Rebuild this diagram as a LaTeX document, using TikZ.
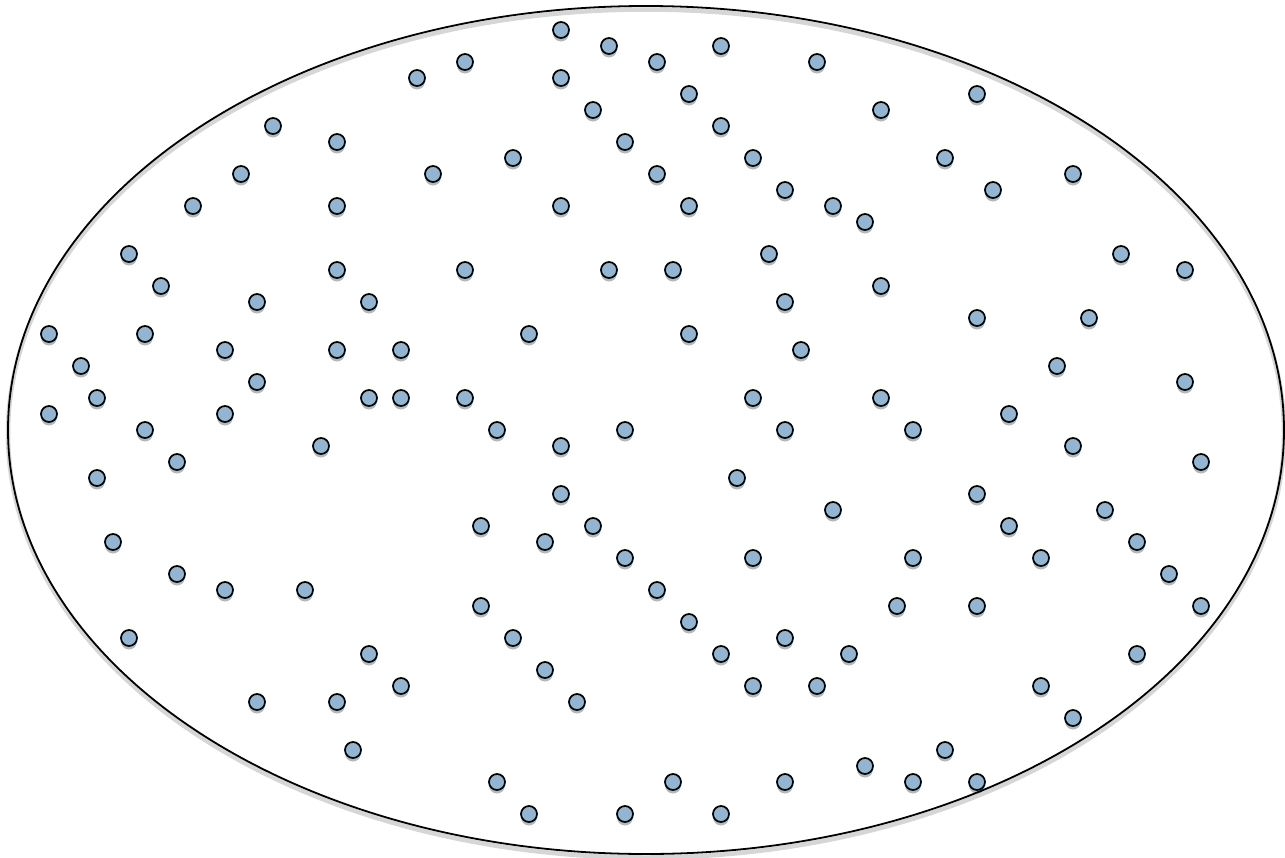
\documentclass[tikz,border=0pt]{standalone}
\usepackage{tikz}
\usetikzlibrary{shapes.geometric,shadows}
\definecolor{dotblue}{RGB}{147,180,211}

\begin{document}
\begin{tikzpicture}[x=1pt, y=-1pt,
    region/.style={ellipse, draw, line width=1.8pt, minimum width=1276pt, minimum height=848pt, inner sep=0pt,
        preaction={draw=black!16, line width=4.5pt, transform canvas={yshift=-3.5pt}}},
    dot/.style={circle, draw, line width=1.7pt, fill=dotblue, minimum size=16pt, inner sep=0pt,
        drop shadow={shadow xshift=0pt, shadow yshift=-3.5pt, fill=black, opacity=0.28}}
]
\useasboundingbox (0,0) rectangle (1285,857);

% Outer region
\node[region] (space) at (646,430) {};

% Scattered points
\foreach \x/\y [count=\i] in {
    561/30, 609/46, 721/46, 465/62, 657/62, 817/62, 417/78, 561/78,
    689/94, 977/94, 593/110, 881/110, 273/126, 721/126, 337/142, 625/142,
    513/158, 753/158, 945/158, 241/174, 433/174, 657/174, 1073/174,
    785/190, 993/190, 193/206, 337/206, 561/206, 689/206, 833/206, 865/222,
    129/254, 769/254, 1121/254, 337/270, 465/270, 609/270, 673/270, 1185/270,
    161/286, 881/286, 257/302, 369/302, 785/302, 977/318, 1089/318,
    49/334, 145/334, 529/334, 689/334, 225/350, 337/350, 401/350, 801/350,
    81/366, 1057/366, 257/382, 1185/382,
    97/398, 369/398, 401/398, 465/398, 753/398, 881/398, 49/414, 225/414, 1009/414,
    145/430, 497/430, 625/430, 785/430, 913/430, 321/446, 561/446, 1073/446,
    177/462, 1201/462, 97/478, 737/478, 561/494, 977/494, 833/510, 1105/510,
    481/526, 593/526, 1009/526, 113/542, 545/542, 1137/542,
    625/558, 753/558, 913/558, 1041/558, 177/574, 1169/574,
    225/590, 305/590, 657/590, 481/606, 897/606, 977/606, 1201/606, 689/622,
    129/638, 513/638, 785/638, 369/654, 721/654, 849/654, 1137/654, 545/670,
    401/686, 753/686, 817/686, 1041/686, 257/702, 337/702, 577/702, 1073/718,
    353/750, 945/750, 865/766, 497/782, 673/782, 785/782, 913/782, 977/782,
    529/814, 625/814, 721/814}
    \node[dot] (p\i) at (\x,\y) {};

\end{tikzpicture}
\end{document}
